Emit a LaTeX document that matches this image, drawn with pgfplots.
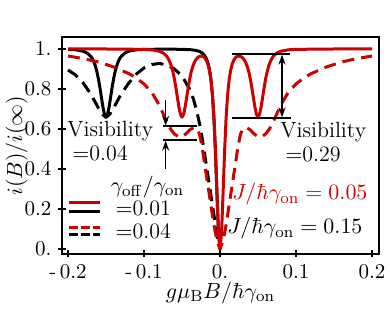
\documentclass[border=0pt]{standalone}
\usepackage{pgfplots}
\pgfplotsset{compat=1.18}
\usetikzlibrary{arrows.meta}
\definecolor{myred}{RGB}{204,0,0}
\begin{document}
\begin{tikzpicture}
\useasboundingbox (-31pt,-35.5pt) rectangle (164pt,127pt);
\begin{axis}[
 scale only axis, width=158.5pt, height=108.5pt,
 xmin=-0.2079, xmax=0.2092, ymin=-0.025, ymax=1.06,
 axis line style={line width=1pt},
 every tick/.style={line width=0.8pt, black},
 tick align=center, major tick length=3.5pt,
 xtick pos=bottom, ytick pos=left,
 xtick={-0.2,-0.1,0,0.1,0.2},
 xticklabels={{-\,0.2},{-\,0.1},{0.},{0.1},{0.2}},
 ytick={0,0.2,0.4,0.6,0.8,1},
 yticklabels={{0.},{0.2},{0.4},{0.6},{0.8},{1.}},
 ticklabel style={font=\fontsize{10.5}{12}\selectfont},
 every axis x label/.style={at={(axis description cs:0.5,-0.2028)}, anchor=base, font=\fontsize{11}{13}\selectfont},
 every axis y label/.style={at={(axis description cs:-0.143,0.5)}, rotate=90, anchor=center, font=\fontsize{11}{13}\selectfont},
 xlabel={$g\mu_{\mathrm{B}}B/\hbar\gamma_{\mathrm{on}}$},
 ylabel={$i(B)/i(\infty)$},
 clip=false,
]
% black dashed: gamma_off/gamma_on = 0.04, J = 0.15
\addplot[black, line width=1.5pt, dash pattern=on 6pt off 3.5pt, line join=round] coordinates {
(-0.2,0.895) (-0.19,0.87) (-0.18,0.83) (-0.17,0.775) (-0.16,0.705) (-0.155,0.674) (-0.15,0.658) (-0.145,0.674) (-0.14,0.705) (-0.13,0.775) (-0.12,0.83) (-0.11,0.875) (-0.1,0.905) (-0.09,0.922) (-0.08,0.928) (-0.07,0.92) (-0.06,0.9) (-0.05,0.865) (-0.04,0.80) (-0.035,0.75) (-0.03,0.68) (-0.026,0.61) (-0.022,0.52) (-0.018,0.42) (-0.014,0.32) (-0.01,0.22) (-0.006,0.12) (-0.003,0.05) (0,0)
};
% black solid: gamma_off/gamma_on = 0.01, J = 0.15
\addplot[black, line width=1.5pt, line join=round] coordinates {
(-0.2,0.998) (-0.19,0.996) (-0.18,0.989) (-0.175,0.980) (-0.17,0.963) (-0.168,0.952) (-0.166,0.936) (-0.164,0.915) (-0.162,0.887) (-0.16,0.851) (-0.158,0.807) (-0.156,0.757) (-0.154,0.709) (-0.152,0.673) (-0.15,0.66) (-0.148,0.673) (-0.146,0.709) (-0.144,0.757) (-0.142,0.807) (-0.14,0.851) (-0.138,0.887) (-0.136,0.915) (-0.134,0.936) (-0.132,0.952) (-0.13,0.963) (-0.125,0.980) (-0.12,0.989) (-0.11,0.996) (-0.1,0.998) (-0.08,0.999) (-0.06,0.999) (-0.05,0.998) (-0.04,0.997) (-0.032,0.993) (-0.028,0.989) (-0.024,0.982) (-0.02,0.966) (-0.018,0.952) (-0.016,0.932) (-0.014,0.901) (-0.012,0.852) (-0.01,0.775) (-0.008,0.658) (-0.006,0.489) (-0.004,0.279) (-0.002,0.083) (0,0)
};
% red dashed: gamma_off/gamma_on = 0.04, J = 0.05
\addplot[myred, line width=1.5pt, dash pattern=on 6pt off 3.5pt, line join=round] coordinates {
(-0.2,0.965) (-0.18,0.952) (-0.16,0.935) (-0.14,0.91) (-0.12,0.877) (-0.11,0.855) (-0.1,0.825) (-0.09,0.785) (-0.08,0.72) (-0.075,0.678) (-0.07,0.635) (-0.065,0.6) (-0.06,0.575) (-0.055,0.562) (-0.05,0.562) (-0.045,0.575) (-0.04,0.595) (-0.035,0.607) (-0.03,0.6) (-0.027,0.575) (-0.024,0.52) (-0.02,0.42) (-0.016,0.32) (-0.012,0.22) (-0.008,0.12) (-0.004,0.04) (0,0)
(0.004,0.04) (0.008,0.12) (0.012,0.22) (0.016,0.32) (0.02,0.42) (0.024,0.52) (0.027,0.575) (0.03,0.600) (0.035,0.607) (0.04,0.595) (0.045,0.575) (0.05,0.562) (0.055,0.562) (0.06,0.575) (0.065,0.6) (0.07,0.635) (0.075,0.678) (0.08,0.72) (0.09,0.785) (0.1,0.825) (0.11,0.855) (0.12,0.877) (0.14,0.91) (0.16,0.935) (0.18,0.952) (0.2,0.965)
};
% red solid: gamma_off/gamma_on = 0.01, J = 0.05
\addplot[myred, line width=1.5pt, line join=round] coordinates {
(-0.2,1.0) (-0.15,1.0) (-0.12,0.999) (-0.1,0.998) (-0.09,0.996) (-0.08,0.989) (-0.074,0.978) (-0.07,0.963) (-0.068,0.951) (-0.066,0.935) (-0.064,0.914) (-0.062,0.886) (-0.06,0.850) (-0.058,0.806) (-0.056,0.756) (-0.054,0.708) (-0.052,0.673) (-0.05,0.659) (-0.048,0.672) (-0.046,0.708) (-0.044,0.755) (-0.042,0.804) (-0.04,0.848) (-0.038,0.884) (-0.036,0.911) (-0.034,0.931) (-0.032,0.945) (-0.03,0.955) (-0.028,0.961) (-0.026,0.964) (-0.024,0.964) (-0.022,0.962) (-0.02,0.955) (-0.018,0.943) (-0.016,0.924) (-0.014,0.894) (-0.012,0.846) (-0.01,0.770) (-0.008,0.654) (-0.006,0.485) (-0.004,0.275) (-0.002,0.079) (0,0)
(0.002,0.079) (0.004,0.275) (0.006,0.485) (0.008,0.654) (0.01,0.770) (0.012,0.846) (0.014,0.894) (0.016,0.924) (0.018,0.943) (0.02,0.955) (0.022,0.962) (0.024,0.964) (0.026,0.964) (0.028,0.961) (0.03,0.955) (0.032,0.945) (0.034,0.931) (0.036,0.911) (0.038,0.884) (0.04,0.848) (0.042,0.804) (0.044,0.755) (0.046,0.708) (0.048,0.672) (0.05,0.659) (0.052,0.673) (0.054,0.708) (0.056,0.756) (0.058,0.806) (0.06,0.850) (0.062,0.886) (0.064,0.914) (0.066,0.935) (0.068,0.951) (0.07,0.963) (0.074,0.978) (0.08,0.989) (0.09,0.996) (0.1,0.998) (0.12,0.999) (0.15,1.0) (0.2,1.0)
};
% visibility annotations
\draw[black, line width=1pt] (0.016,0.975) -- (0.092,0.975);
\draw[black, line width=1pt] (0.016,0.655) -- (0.093,0.655);
\draw[black, line width=0.8pt, {Stealth[length=5pt,width=3.5pt]}-{Stealth[length=5pt,width=3.5pt]}] (0.0816,0.972) -- (0.0816,0.658);
\draw[black, line width=1pt] (-0.075,0.613) -- (-0.030,0.613);
\draw[black, line width=1pt] (-0.075,0.545) -- (-0.030,0.545);
\draw[black, line width=0.8pt, -{Stealth[length=5pt,width=3.5pt]}] (-0.0715,0.745) -- (-0.0715,0.616);
\draw[black, line width=0.8pt, -{Stealth[length=5pt,width=3.5pt]}] (-0.0715,0.40) -- (-0.0715,0.542);
\node[anchor=base west, inner sep=0pt, font=\fontsize{11}{13}\selectfont] at (-0.2013,0.56) {Visibility};
\node[anchor=base west, inner sep=0pt, font=\fontsize{11}{13}\selectfont] at (-0.1947,0.44) {$=$0.04};
\node[anchor=base west, inner sep=0pt, font=\fontsize{11}{13}\selectfont] at (0.079,0.555) {Visibility};
\node[anchor=base west, inner sep=0pt, font=\fontsize{11}{13}\selectfont] at (0.0855,0.435) {$=$0.29};
\node[anchor=base west, inner sep=0pt, font=\fontsize{11}{13}\selectfont, text=myred] at (0.0158,0.245) {$J/\hbar\gamma_{\mathrm{on}}=0.05$};
\node[anchor=base west, inner sep=0pt, font=\fontsize{11}{13}\selectfont] at (0.0092,0.075) {$J/\hbar\gamma_{\mathrm{on}}=0.15$};
% legend
\node[anchor=center, inner sep=0pt, font=\fontsize{11}{13}\selectfont] at (-0.0954,0.31) {$\gamma_{\mathrm{off}}/\gamma_{\mathrm{on}}$};
\draw[myred, line width=1.5pt] (-0.1983,0.23) -- (-0.158,0.23);
\draw[black, line width=1.5pt] (-0.1983,0.187) -- (-0.158,0.187);
\draw[myred, line width=1.5pt, dash pattern=on 4.5pt off 1.5pt] (-0.1983,0.107) -- (-0.158,0.107);
\draw[black, line width=1.5pt, dash pattern=on 4.5pt off 1.5pt] (-0.1983,0.07) -- (-0.158,0.07);
\node[anchor=base west, inner sep=0pt, font=\fontsize{11}{13}\selectfont] at (-0.138,0.165) {$=$0.01};
\node[anchor=base west, inner sep=0pt, font=\fontsize{11}{13}\selectfont] at (-0.138,0.0525) {$=$0.04};
\end{axis}
\end{tikzpicture}
\end{document}
